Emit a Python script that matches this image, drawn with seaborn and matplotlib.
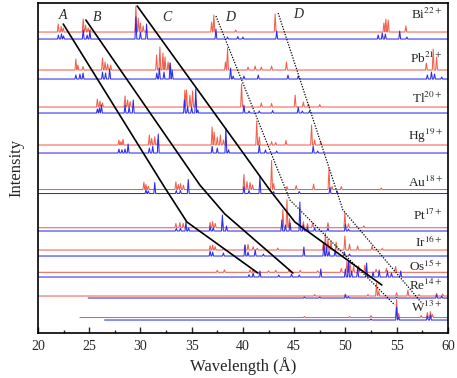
import numpy as np
import pandas as pd
import matplotlib
matplotlib.use("Agg")
import matplotlib.pyplot as plt
from matplotlib.ticker import MultipleLocator
import seaborn as sns

sns.set_style("ticks")
plt.rcParams["font.family"] = ["Liberation Serif", "DejaVu Serif"]
plt.rcParams["mathtext.fontset"] = "stix"

RED = "#f0604c"
BLUE = "#2b2bf2"

ions = ["Bi$^{22+}$", "Pb$^{21+}$", "Tl$^{20+}$", "Hg$^{19+}$", "Au$^{18+}$",
        "Pt$^{17+}$", "Ir$^{16+}$", "Os$^{15+}$", "Re$^{14+}$", "W$^{13+}$"]

# vertical offset of each stacked spectrum (red = calc 1, blue = calc 2)
red_base = [301, 263, 226, 188, 143.5, 105.3, 83, 60.7, 37, 15.5]
blue_base = [294, 254, 220, 180, 139.5, 102, 77, 56, 35, 13]
red_start = [20, 20, 20, 20, 20, 20, 20, 20, 20, 24.1]
blue_start = [20, 20, 20, 20, 20, 20, 20, 20, 24.9, 26.5]

# (wavelength in Angstrom, peak height)
red_peaks = [
    [(21.98, 8), (22.27, 5.7), (22.47, 4), (24.42, 13), (24.65, 7), (24.9, 4), (25.1, 2.5),
     (29.56, 26), (29.79, 14), (30.0, 9), (30.27, 6), (30.6, 2), (36.95, 10), (37.17, 17),
     (39.3, 2), (43.15, 18), (53.76, 9), (53.95, 13), (54.18, 12), (55.9, 6)],
    [(23.7, 11), (23.9, 5), (24.4, 3.5), (26.3, 12), (26.55, 8), (26.8, 6), (27.1, 5),
     (31.58, 15), (31.9, 23), (32.2, 17), (32.4, 13), (32.7, 8), (32.9, 7), (38.3, 8),
     (38.5, 22), (40.5, 3), (41.2, 4), (41.8, 3), (42.8, 4), (44.25, 8), (57.9, 7),
     (58.57, 21), (58.9, 13)],
    [(25.8, 8), (26.05, 6), (26.3, 4), (28.5, 11), (28.75, 7), (29.0, 5.5), (34.34, 17),
     (34.5, 17), (34.83, 12), (35.09, 16), (35.41, 7), (39.87, 23), (41.8, 4), (42.8, 3.5),
     (45.1, 12), (45.9, 5), (46.4, 3), (47.5, 2.5)],
    [(27.9, 5), (28.1, 3.3), (28.3, 5.7), (30.87, 10), (31.1, 6.7), (31.4, 8.3), (31.7, 5),
     (37.0, 18), (37.2, 13), (37.5, 8), (37.8, 10), (38.1, 5), (41.35, 24), (41.6, 8),
     (42.8, 3.3), (43.2, 2.5), (44.2, 4.5), (46.7, 20), (47.0, 5), (47.6, 3.3)],
    [(30.34, 7.3), (30.54, 5), (30.77, 3.3), (33.46, 7.7), (33.7, 5), (33.92, 6), (34.2, 4.3),
     (40.1, 15), (40.4, 8), (40.7, 7), (40.95, 4.5), (42.8, 29), (43.0, 6), (44.3, 3),
     (45.2, 4), (46.9, 5.5), (48.4, 21), (48.7, 3), (49.6, 3), (53.5, 1.5)],
    [(33.46, 4.3), (33.85, 5.3), (34.17, 4.3), (36.8, 5.3), (37.05, 6), (37.3, 4.3),
     (38.0, 6), (43.9, 18), (44.3, 28), (44.55, 9), (45.9, 6), (46.3, 4), (46.8, 5),
     (48.3, 5), (49.95, 15), (50.3, 4), (51.8, 2)],
    [(36.8, 4.3), (37.05, 5), (37.3, 3.3), (38.1, 1.7), (40.2, 5), (40.5, 5.7), (41.0, 3.3),
     (41.4, 1.7), (43.4, 2), (47.85, 7), (48.05, 17), (48.3, 11), (48.6, 9), (49.1, 8),
     (49.95, 14), (50.4, 6), (51.2, 4), (52.6, 4), (53.6, 1.5)],
    [(37.5, 2), (38.2, 2.5), (40.7, 2.5), (41.0, 3), (42.5, 1.5), (43.2, 2), (44.5, 2.5),
     (45.6, 2), (47.3, 1.5), (49.6, 4), (50.15, 11), (50.45, 11.5), (50.8, 6), (51.3, 6.5),
     (51.9, 7), (53.0, 3), (54.0, 4), (54.9, 6)],
    [(47.0, 1.5), (50.0, 2), (52.2, 1.5), (53.04, 13), (53.25, 5), (55.0, 3.3), (56.1, 6),
     (57.2, 1.5), (58.9, 2.7), (59.5, 2)],
    [(46.0, 1), (50.4, 1), (52.5, 2), (55.0, 18), (55.2, 4), (57.4, 2), (58.0, 5),
     (58.3, 6), (58.5, 3)],
]

blue_peaks = [
    [(22.0, 4), (22.3, 5), (22.5, 3), (24.42, 9), (24.8, 4), (25.07, 8), (29.56, 22),
     (30.0, 7), (30.6, 15), (37.37, 10), (38.5, 2), (39.5, 2.5), (40.0, 2), (43.3, 8),
     (53.2, 4), (53.6, 6), (53.9, 5), (55.3, 8), (56.0, 2)],
    [(23.7, 4), (24.1, 5), (24.4, 6), (26.3, 7), (26.6, 6), (27.0, 10), (31.6, 6),
     (31.85, 11), (32.3, 7), (32.9, 16), (33.1, 9), (38.8, 11), (39.05, 3), (40.1, 3),
     (41.5, 4), (44.4, 4), (45.4, 3), (58.0, 4), (58.4, 7), (58.7, 5), (59.4, 2)],
    [(25.8, 4), (26.0, 5), (26.2, 8), (28.5, 8), (28.9, 6), (29.3, 13), (34.3, 13),
     (34.6, 6), (35.0, 6), (35.4, 24), (35.6, 3), (40.1, 8), (40.6, 2), (41.6, 2),
     (42.9, 2.5), (45.4, 6), (45.8, 2), (46.5, 2)],
    [(27.9, 4), (28.2, 3.3), (28.5, 4), (28.8, 9), (30.87, 5), (31.2, 6.7), (31.74, 19),
     (37.0, 6.7), (37.5, 5), (38.34, 25), (38.6, 3.3), (41.6, 8), (42.2, 3), (43.3, 2),
     (46.86, 7), (47.3, 2)],
    [(30.54, 3.7), (30.77, 2.7), (31.4, 11), (33.5, 3), (33.9, 3), (34.67, 14), (40.1, 7),
     (40.6, 3), (41.66, 17), (43.0, 2), (45.5, 2), (48.5, 6), (49.2, 2)],
    [(33.5, 2.7), (33.9, 2.7), (34.44, 9), (34.7, 3), (36.8, 4.3), (37.1, 3.3), (38.0, 16),
     (38.4, 5), (43.8, 11), (44.15, 6), (44.6, 8), (45.56, 29), (45.9, 6), (46.3, 4),
     (47.0, 3), (48.3, 3), (50.0, 7), (50.3, 2)],
    [(36.8, 5), (37.05, 4), (38.1, 3), (40.2, 11), (40.5, 4), (41.2, 6), (42.0, 2),
     (45.95, 9), (47.9, 13), (48.15, 9), (48.4, 5), (49.0, 6), (49.9, 4), (50.4, 2)],
    [(40.6, 2.3), (41.0, 4), (41.66, 6), (43.5, 2), (44.75, 3), (45.5, 2), (47.6, 8),
     (50.0, 8), (50.3, 15), (50.6, 6), (51.2, 10), (52.07, 14), (52.7, 5), (53.3, 7),
     (54.1, 6), (54.5, 4), (55.4, 6)],
    [(46.0, 1), (47.5, 1), (50.0, 3), (50.3, 1.5), (55.0, 1), (58.9, 3), (59.4, 2)],
    [(52.5, 1), (55.0, 13), (55.2, 3), (58.0, 4), (58.3, 5)],
]

label_y = [319, 275, 235, 197, 151, 118, 91, 67, 48, 26]

# guide lines through the A-D transition arrays
guides = {
    "A": ([22.47, 32.34, 34.54, 41.46], [309, 146, 111, 60], "-"),
    "B": ([24.68, 35.80, 38.24, 44.88], [313, 148, 119, 60], "-"),
    "C": ([29.69, 42.63, 45.07, 53.56], [327, 143, 111, 48], "-"),
    "D1": ([37.37, 44.59, 54.83], [317, 133, 28], ":"),
    "D2": ([43.44, 49.76, 57.46], [320, 123, 30], ":"),
}
letters = [("A", 22.44, 318), ("B", 25.79, 316), ("C", 32.56, 316),
           ("D", 38.8, 316), ("D", 45.4, 319)]


def spectrum(start, base, peaks, w=0.09):
    xs, ys = [start], [base]
    for lam, h in sorted(peaks):
        xs += [lam - w, lam, lam + w]
        ys += [base, base + h, base]
    xs.append(60)
    ys.append(base)
    return pd.DataFrame({"wl": xs, "I": ys})


fig, ax = plt.subplots(figsize=(4.57, 3.78), dpi=100)
fig.subplots_adjust(left=0.083, right=0.980, bottom=0.119, top=0.992)

for i in range(len(ions)):
    r = spectrum(red_start[i], red_base[i], red_peaks[i])
    b = spectrum(blue_start[i], blue_base[i], blue_peaks[i])
    sns.lineplot(data=r, x="wl", y="I", sort=False, estimator=None, color=RED, lw=0.75, ax=ax)
    sns.lineplot(data=b, x="wl", y="I", sort=False, estimator=None, color=BLUE, lw=0.75, ax=ax)
    ax.text(59.5, label_y[i], ions[i], ha="right", va="center", fontsize=9.5)

for name, (gx, gy, ls) in guides.items():
    if ls == "-":
        ax.plot(gx, gy, color="black", ls="-", lw=1.2)
    else:
        ax.plot(gx, gy, color="black", ls=(0, (1, 1.2)), lw=0.9)

for t, x, y in letters:
    ax.text(x, y, t, ha="center", va="center", fontsize=10, style="italic")

ax.set_xlim(20, 60)
ax.set_ylim(0, 330)
ax.xaxis.set_major_locator(MultipleLocator(5))
ax.xaxis.set_minor_locator(MultipleLocator(2.5))
ax.tick_params(axis="x", which="both", direction="in", top=False, labelsize=10, pad=5)
ax.tick_params(axis="x", which="major", length=4, width=1)
ax.tick_params(axis="x", which="minor", length=2.5, width=1)
ax.set_yticks([])
for s in ax.spines.values():
    s.set_linewidth(1.2)
    s.set_color("black")
ax.set_xlabel("Wavelength (Å)", fontsize=12, labelpad=3)
ax.set_ylabel("Intensity", fontsize=12, labelpad=10)

fig.savefig("out.png", dpi=100)
